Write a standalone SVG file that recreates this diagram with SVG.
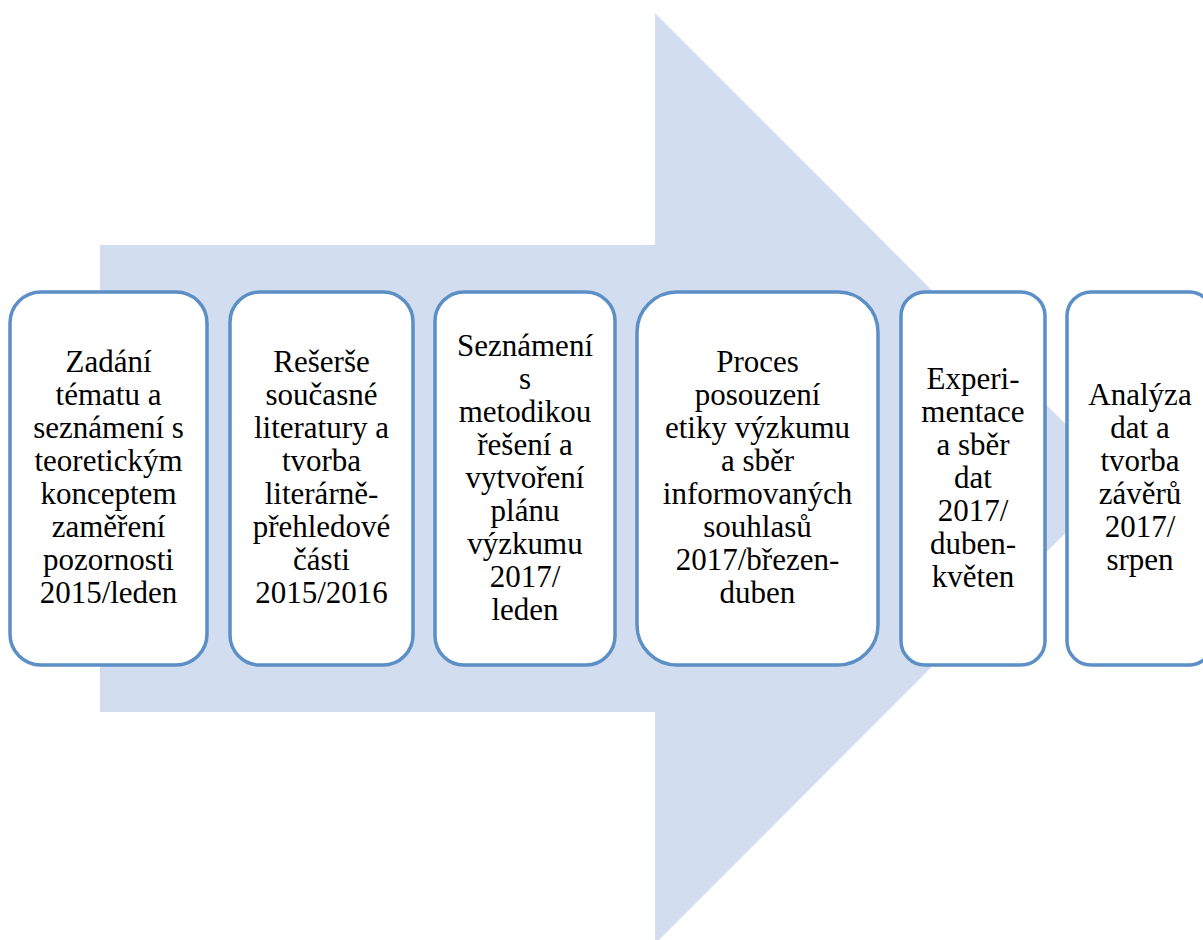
<svg xmlns="http://www.w3.org/2000/svg" width="1203" height="940" viewBox="0 0 1203 940">
<rect width="1203" height="940" fill="#ffffff"/>
<g id="arrow">
<polygon points="100,245 655,245 655,13 1120,478.5 655,944 655,712 100,712" fill="#d2deef"/>
</g>
<g id="connectors"></g>
<g id="n1">
<rect x="10" y="292" width="197" height="373" rx="31" ry="31" fill="#ffffff" stroke="#5b8fc6" stroke-width="3.5"/>
<text x="108.5" y="372" font-family="Liberation Serif" font-size="31" text-anchor="middle">Zadání</text>
<text x="108.5" y="405" font-family="Liberation Serif" font-size="31" text-anchor="middle">tématu a</text>
<text x="108.5" y="438" font-family="Liberation Serif" font-size="31" text-anchor="middle">seznámení s</text>
<text x="108.5" y="471" font-family="Liberation Serif" font-size="31" text-anchor="middle">teoretickým</text>
<text x="108.5" y="504" font-family="Liberation Serif" font-size="31" text-anchor="middle">konceptem</text>
<text x="108.5" y="537" font-family="Liberation Serif" font-size="31" text-anchor="middle">zaměření</text>
<text x="108.5" y="570" font-family="Liberation Serif" font-size="31" text-anchor="middle">pozornosti</text>
<text x="108.5" y="603" font-family="Liberation Serif" font-size="31" text-anchor="middle">2015/leden</text>
</g>
<g id="n2">
<rect x="230" y="292" width="183" height="373" rx="30" ry="30" fill="#ffffff" stroke="#5b8fc6" stroke-width="3.5"/>
<text x="321.5" y="372" font-family="Liberation Serif" font-size="31" text-anchor="middle">Rešerše</text>
<text x="321.5" y="405" font-family="Liberation Serif" font-size="31" text-anchor="middle">současné</text>
<text x="321.5" y="438" font-family="Liberation Serif" font-size="31" text-anchor="middle">literatury a</text>
<text x="321.5" y="471" font-family="Liberation Serif" font-size="31" text-anchor="middle">tvorba</text>
<text x="321.5" y="504" font-family="Liberation Serif" font-size="31" text-anchor="middle">literárně-</text>
<text x="321.5" y="537" font-family="Liberation Serif" font-size="31" text-anchor="middle">přehledové</text>
<text x="321.5" y="570" font-family="Liberation Serif" font-size="31" text-anchor="middle">části</text>
<text x="321.5" y="603" font-family="Liberation Serif" font-size="31" text-anchor="middle">2015/2016</text>
</g>
<g id="n3">
<rect x="435" y="292" width="180" height="373" rx="29" ry="29" fill="#ffffff" stroke="#5b8fc6" stroke-width="3.5"/>
<text x="525" y="355.5" font-family="Liberation Serif" font-size="31" text-anchor="middle">Seznámení</text>
<text x="525" y="388.5" font-family="Liberation Serif" font-size="31" text-anchor="middle">s</text>
<text x="525" y="421.5" font-family="Liberation Serif" font-size="31" text-anchor="middle">metodikou</text>
<text x="525" y="454.5" font-family="Liberation Serif" font-size="31" text-anchor="middle">řešení a</text>
<text x="525" y="487.5" font-family="Liberation Serif" font-size="31" text-anchor="middle">vytvoření</text>
<text x="525" y="520.5" font-family="Liberation Serif" font-size="31" text-anchor="middle">plánu</text>
<text x="525" y="553.5" font-family="Liberation Serif" font-size="31" text-anchor="middle">výzkumu</text>
<text x="525" y="586.5" font-family="Liberation Serif" font-size="31" text-anchor="middle">2017/</text>
<text x="525" y="619.5" font-family="Liberation Serif" font-size="31" text-anchor="middle">leden</text>
</g>
<g id="n4">
<rect x="637" y="292" width="241" height="373" rx="40" ry="40" fill="#ffffff" stroke="#5b8fc6" stroke-width="3.5"/>
<text x="757.5" y="372" font-family="Liberation Serif" font-size="31" text-anchor="middle">Proces</text>
<text x="757.5" y="405" font-family="Liberation Serif" font-size="31" text-anchor="middle">posouzení</text>
<text x="757.5" y="438" font-family="Liberation Serif" font-size="31" text-anchor="middle">etiky výzkumu</text>
<text x="757.5" y="471" font-family="Liberation Serif" font-size="31" text-anchor="middle">a sběr</text>
<text x="757.5" y="504" font-family="Liberation Serif" font-size="31" text-anchor="middle">informovaných</text>
<text x="757.5" y="537" font-family="Liberation Serif" font-size="31" text-anchor="middle">souhlasů</text>
<text x="757.5" y="570" font-family="Liberation Serif" font-size="31" text-anchor="middle">2017/březen-</text>
<text x="757.5" y="603" font-family="Liberation Serif" font-size="31" text-anchor="middle">duben</text>
</g>
<g id="n5">
<rect x="901" y="292" width="144" height="373" rx="24" ry="24" fill="#ffffff" stroke="#5b8fc6" stroke-width="3.5"/>
<text x="973" y="388.5" font-family="Liberation Serif" font-size="31" text-anchor="middle">Experi-</text>
<text x="973" y="421.5" font-family="Liberation Serif" font-size="31" text-anchor="middle">mentace</text>
<text x="973" y="454.5" font-family="Liberation Serif" font-size="31" text-anchor="middle">a sběr</text>
<text x="973" y="487.5" font-family="Liberation Serif" font-size="31" text-anchor="middle">dat</text>
<text x="973" y="520.5" font-family="Liberation Serif" font-size="31" text-anchor="middle">2017/</text>
<text x="973" y="553.5" font-family="Liberation Serif" font-size="31" text-anchor="middle">duben-</text>
<text x="973" y="586.5" font-family="Liberation Serif" font-size="31" text-anchor="middle">květen</text>
</g>
<g id="n6">
<rect x="1067" y="292" width="146" height="373" rx="24" ry="24" fill="#ffffff" stroke="#5b8fc6" stroke-width="3.5"/>
<text x="1140" y="405" font-family="Liberation Serif" font-size="31" text-anchor="middle">Analýza</text>
<text x="1140" y="438" font-family="Liberation Serif" font-size="31" text-anchor="middle">dat a</text>
<text x="1140" y="471" font-family="Liberation Serif" font-size="31" text-anchor="middle">tvorba</text>
<text x="1140" y="504" font-family="Liberation Serif" font-size="31" text-anchor="middle">závěrů</text>
<text x="1140" y="537" font-family="Liberation Serif" font-size="31" text-anchor="middle">2017/</text>
<text x="1140" y="570" font-family="Liberation Serif" font-size="31" text-anchor="middle">srpen</text>
</g>
</svg>
